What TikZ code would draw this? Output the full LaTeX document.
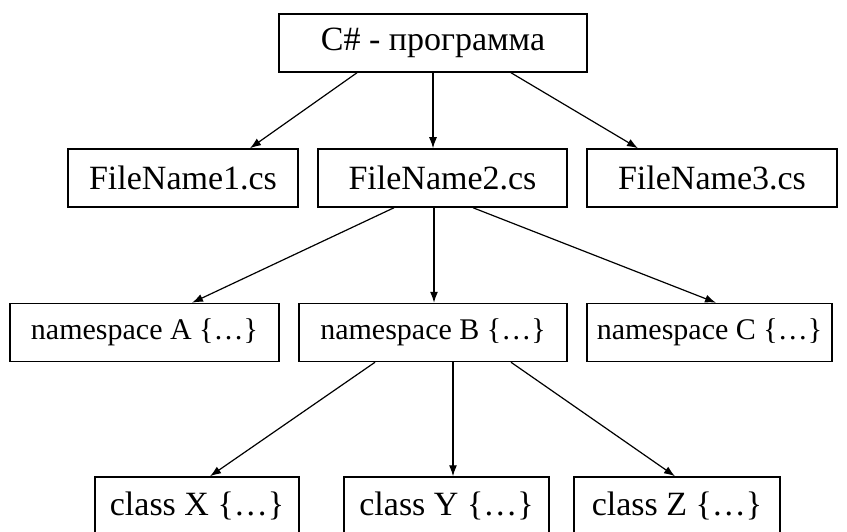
\documentclass[tikz,border=0pt]{standalone}
\usepackage{fontspec}
\setmainfont{Liberation Serif}
\usetikzlibrary{calc}
\usetikzlibrary{arrows.meta}

\begin{document}
\begin{tikzpicture}[x=1pt, y=-1pt]
    \tikzset{box/.style={draw, line width=1.5pt, inner sep=0pt, minimum height=58pt, font=\fontsize{34}{40}\selectfont}}
    \tikzset{smallbox/.style={box, font=\fontsize{30}{36}\selectfont}}
    \tikzset{link/.style={line width=1.2pt, -{Latex[length=11pt, width=8pt]}}}
    \useasboundingbox (0, 0) rectangle (847, 532);
    \fill[white] (0, 0) rectangle (847, 532);
    \clip (0, 0) rectangle (847, 532);
    % top
    \node[box, minimum width=308pt] (prog) at (433, 43) {C\# - программа};
    % files
    \node[box, minimum width=230pt] (file1) at (183, 178) {FileName1.cs};
    \node[box, minimum width=249pt] (file2) at (442.5, 178) {FileName2.cs};
    \node[box, minimum width=250pt] (file3) at (712, 178) {FileName3.cs};
    % namespaces
    \node[smallbox, minimum width=269pt] (nsA) at (144.5, 332.5) {namespace A \{…\}};
    \node[smallbox, minimum width=268pt] (nsB) at (433, 332.5) {namespace B \{…\}};
    \node[smallbox, minimum width=245pt] (nsC) at (709.5, 332.5) {namespace C \{…\}};
    % classes
    \node[box, minimum width=204pt] (clsX) at (197, 506) {class X \{…\}};
    \node[box, minimum width=205pt] (clsY) at (446.5, 506) {class Y \{…\}};
    \node[box, minimum width=206pt] (clsZ) at (677, 506) {class Z \{…\}};
    \draw[link] ($(prog.south)+(-76, 0)$) -- ($(file1.north)+(67, 0)$);
    \draw[link] (prog.south) -- ($(file2.north)+(-9.5, 0)$);
    \draw[link] ($(prog.south)+(78, 0)$) -- ($(file3.north)+(-74, 0)$);
    \draw[link] ($(file2.south)+(-48.5, 0)$) -- ($(nsA.north)+(47.5, 0)$);
    \draw[link] ($(file2.south)+(-8.5, 0)$) -- ($(nsB.north)+(1, 0)$);
    \draw[link] ($(file2.south)+(30.5, 0)$) -- ($(nsC.north)+(6.5, 0)$);
    \draw[link] ($(nsB.south)+(-58, 0)$) -- ($(clsX.north)+(13, 0)$);
    \draw[link] ($(nsB.south)+(20, 0)$) -- ($(clsY.north)+(6.5, 0)$);
    \draw[link] ($(nsB.south)+(78, 0)$) -- ($(clsZ.north)+(-2, 0)$);
\end{tikzpicture}
\end{document}
